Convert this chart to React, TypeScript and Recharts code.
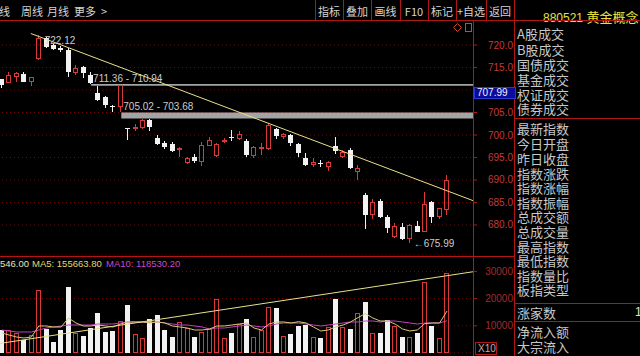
import React from 'react';
import {
  ComposedChart,
  Bar,
  Line,
  XAxis,
  YAxis,
  CartesianGrid,
  ReferenceLine,
  ReferenceArea,
  ReferenceDot,
} from 'recharts';

// daily candles, oldest first (index 0 is cut at the left edge)
const opens = [
  712.4, 711.6, 712.8, 713.6, 711.85, 717.0, 721.5, 720.0, 719.4, 719.0,
  713.85, 715.05, 713.3, 709.4, 708.4, 706.55, 706.15, 701.5, 701.3, 701.5,
  703.3, 699.3, 698.2, 697.9, 696.7, 693.7, 695.2, 694.1, 697.6, 695.4,
  698.5, 699.6, 699.1, 698.7, 695.3, 696.8, 696.8, 701.3, 699.5, 700.0,
  697.9, 694.95, 693.3, 693.85, 692.95, 697.55, 695.2, 696.65, 691.85, 686.65,
  682.2, 685.4, 681.7, 677.3, 679.6, 676.8, 679.8, 678.5, 685.2, 681.7, 683.3,
];
const highs = [
  712.5, 714.1, 714.0, 714.1, 712.9, 722.12, 721.85, 720.2, 719.7, 719.3,
  715.55, 715.3, 714.1, 710.94, 708.7, 706.65, 711.2, 701.6, 702.4, 703.56,
  703.45, 700.0, 698.65, 698.4, 697.3, 695.1, 695.8, 698.5, 699.6, 698.2,
  699.3, 701.1, 700.9, 699.05, 697.55, 698.15, 702.6, 701.55, 700.35, 700.2,
  698.2, 695.9, 694.8, 694.45, 694.2, 699.5, 696.7, 697.05, 693.3, 687.1,
  685.7, 685.7, 682.2, 680.4, 680.4, 680.2, 680.95, 687.4, 685.35, 683.8, 691.1,
];
const lows = [
  710.4, 711.5, 711.8, 711.8, 710.9, 716.7, 719.3, 718.9, 718.5, 713.0,
  713.3, 712.6, 711.36, 707.5, 705.9, 705.1, 705.02, 698.9, 700.9, 701.3,
  700.9, 697.8, 696.9, 696.15, 695.2, 693.55, 693.7, 693.2, 697.55, 695.1,
  698.15, 698.65, 699.0, 695.2, 694.8, 695.55, 696.7, 699.05, 699.05, 697.55,
  695.05, 693.2, 692.8, 692.8, 692.05, 695.8, 694.9, 692.45, 690.0, 679.05,
  681.3, 681.55, 678.15, 677.05, 676.65, 675.99, 678.35, 678.35, 680.5, 681.25, 682.2,
];
const closes = [
  711.1, 713.3, 713.7, 711.8, 712.8, 721.5, 719.6, 719.1, 719.0, 714.1,
  714.95, 713.85, 711.6, 707.8, 706.7, 706.3, 711.1, 701.3, 701.8, 703.3,
  701.85, 697.9, 697.4, 696.4, 697.2, 694.95, 694.2, 697.8, 698.9, 697.9,
  698.8, 699.25, 700.15, 695.55, 697.4, 697.4, 702.2, 699.8, 700.2, 698.3,
  695.9, 693.3, 694.05, 693.55, 694.05, 696.5, 696.3, 692.6, 692.6, 682.2,
  685.2, 681.85, 679.25, 679.8, 676.8, 680.0, 678.5, 684.65, 681.7, 683.7, 690.0,
];

// volume in axis units (the axis is marked X10)
const volumes = [
  8450, 8450, 7350, 4780, 6600, 23200, 8800, 4150, 8450, 24150,
  7460, 6250, 9080, 14800, 7830, 8090, 11870, 17650, 6870, 5400,
  12390, 13970, 8450, 6000, 11500, 9080, 5770, 7830, 8710, 19740,
  5400, 7240, 10660, 12390, 5770, 8450, 17020, 16430, 6250, 6870,
  9930, 10290, 5770, 5400, 9670, 19740, 9670, 8710, 14590, 18860,
  7240, 7240, 12130, 9930, 5770, 5770, 7240, 26210, 9930, 5400, 29520,
];
const ma5 = [
  7350, 6600, 5880, 5510, 5880, 9930, 9930, 9560, 9560, 12870,
  11030, 9930, 9930, 10290, 9930, 9560, 10660, 11400, 11400, 11400,
  11030, 11400, 11030, 9930, 9560, 9190, 8450, 8450, 8820, 9930,
  9930, 10290, 10660, 11030, 9190, 8450, 10660, 11400, 11400, 11030,
  11500, 11030, 9560, 8090, 8450, 9560, 10300, 11400, 13000, 14500,
  12870, 11760, 11760, 10660, 8820, 8090, 8450, 10800, 11030, 11030, 15440,
];
const ma10 = [
  8450, 8090, 7720, 7720, 7720, 8450, 9190, 9560, 9930, 10290,
  10290, 10290, 10290, 10660, 10660, 10660, 11030, 11400, 11400, 11400,
  11400, 11400, 11030, 10660, 10290, 10290, 9930, 9560, 8820, 9190,
  9190, 9560, 9930, 10290, 9930, 9560, 9930, 10660, 11030, 11030,
  11030, 10660, 10290, 9930, 10290, 10660, 11030, 11400, 11400, 11760,
  11760, 11400, 11760, 11760, 11400, 11030, 10660, 11030, 11030, 11030, 11850,
];

const SLOTS = 64; // 61 candles + empty room before the price axis

const priceTicks = [680, 685, 690, 695, 700, 705, 710, 715, 720];
const volTicks = [10000, 20000, 30000];

const gaps = [
  { after: 12, top: 711.36, bottom: 710.94 },
  { after: 16, top: 705.02, bottom: 703.68 },
];
const priceTrend = [{ x: 4.35, y: 722.56 }, { x: 63.5, y: 685.1 }];
const volTrend = [{ x: -0.5, y: 3200 }, { x: 63.5, y: 30070 }];
const highMark = { i: 5, value: 722.12 };
const lowMark = { i: 55, value: 675.99 };
const cursorPrice = 707.99; // the blue box covers the 710.0 tick label
const volHeader = { vol: '546.00', ma5: '155663.80', ma10: '118530.20' };

const tabs = [
  { text: '日线', left: -12 },
  { text: '周线', left: 21 },
  { text: '月线', left: 47 },
  { text: '更多', left: 74 },
  { text: '>', left: 101 },
];
const buttons = ['指标', '叠加', '画线', 'F10', '标记', '+自选', '返回'];
const buttonEdges = [315, 343, 371, 400, 428, 456, 486, 514];
const infoRows = [
  { text: 'A股成交', y: 33.5 },
  { text: 'B股成交', y: 49 },
  { text: '国债成交', y: 64 },
  { text: '基金成交', y: 79 },
  { text: '权证成交', y: 94 },
  { text: '债券成交', y: 108.5 },
  { text: '最新指数', y: 128 },
  { text: '今日开盘', y: 143 },
  { text: '昨日收盘', y: 158 },
  { text: '指数涨跌', y: 173 },
  { text: '指数涨幅', y: 187.5 },
  { text: '指数振幅', y: 202 },
  { text: '总成交额', y: 216.5 },
  { text: '总成交量', y: 231 },
  { text: '最高指数', y: 246 },
  { text: '最低指数', y: 260.5 },
  { text: '指数量比', y: 275 },
  { text: '板指类型', y: 289.5 },
  { text: '涨家数', y: 312.5 },
  { text: '净流入额', y: 331 },
  { text: '大宗流入', y: 346 },
];

const RED = '#d83a3a';
const WHITE = '#f2f2f2';
const FRAME = '#b01616';
const GRID = '#6e0a0a';
const TREND = '#e6e28a';
const LABEL = '#cccccc';
const NUM_FONT = "'Liberation Sans', Arial, 'DejaVu Sans', sans-serif";
const CJK_FONT = "'Noto Sans CJK SC', 'Noto Sans', sans-serif";

function Candle(props: any) {
  const { x, y, width, height, payload } = props;
  if (!payload || payload.o == null || !(height > 0)) return null;
  const { o, h, l, c } = payload;
  const k = height / (h - l);
  const toY = (v: number) => y + (h - v) * k;
  const left = Math.round(x + width / 2 - 2.5);
  const up = c >= o;
  const color = up ? RED : WHITE;
  const yHigh = Math.round(y);
  const yLow = Math.round(y + height);
  const yTop = Math.round(toY(Math.max(o, c)));
  const yBot = Math.max(Math.round(toY(Math.min(o, c))), yTop + 1);
  return (
    <g>
      <rect x={left + 2} y={yHigh} width={1} height={Math.max(0, yTop - yHigh)} fill={color} />
      <rect x={left + 2} y={yBot} width={1} height={Math.max(0, yLow - yBot)} fill={color} />
      {up && yBot - yTop > 2 ? (
        <rect x={left + 0.5} y={yTop + 0.5} width={4} height={yBot - yTop - 1} fill="none" stroke={color} />
      ) : (
        <rect x={left} y={yTop} width={5} height={yBot - yTop} fill={color} />
      )}
    </g>
  );
}

function VolBar(props: any) {
  const { x, y, width, height, payload } = props;
  if (!payload || payload.v == null || !(height > 0)) return null;
  const left = Math.round(x + width / 2 - 2.5);
  const top = Math.round(y);
  const bottom = Math.round(y + height);
  return payload.up ? (
    <rect x={left + 0.5} y={top + 0.5} width={4} height={Math.max(0, bottom - top - 1)} fill="none" stroke={RED} />
  ) : (
    <rect x={left} y={top} width={5} height={bottom - top} fill={WHITE} />
  );
}

const PriceTick = (props: any) => {
  const v = Number(props.payload.value);
  if (Math.abs(v - cursorPrice) < 2.5) return <g />;
  return (
    <text x={props.x + 36} y={props.y} dy={3.5} textAnchor="end" fill="#c23a3a" fontSize={10} fontFamily={NUM_FONT}>
      {v.toFixed(1)}
    </text>
  );
};

const VolTick = (props: any) => (
  <text x={props.x + 36} y={props.y} dy={3.5} textAnchor="end" fill="#a02c2c" fontSize={10} fontFamily={NUM_FONT}>
    {props.payload.value}
  </text>
);

const gapLabel = (text: string) => (p: any) => (
  <text x={p.viewBox.x + 2} y={p.viewBox.y - 2} fill={LABEL} fontSize={10} fontFamily={NUM_FONT}>
    {text}
  </text>
);

const highLabel = (p: any) => (
  <text x={p.viewBox.x + 10} y={p.viewBox.y + 10} fill={LABEL} fontSize={10} fontFamily={NUM_FONT}>
    {highMark.value.toFixed(2)}
  </text>
);

const lowLabel = (p: any) => (
  <text x={p.viewBox.x + 2} y={p.viewBox.y + 4.5} fill={LABEL} fontSize={10} fontFamily={NUM_FONT}>
    {'←' + lowMark.value.toFixed(2)}
  </text>
);

export default function App() {
  const rows = Array.from({ length: SLOTS }, (_, i) => ({
    i,
    o: opens[i],
    h: highs[i],
    l: lows[i],
    c: closes[i],
    up: closes[i] >= opens[i],
    v: volumes[i],
    m5: ma5[i],
    m10: ma10[i],
  }));

  const text = (extra: React.CSSProperties): React.CSSProperties => ({
    position: 'absolute',
    whiteSpace: 'nowrap',
    lineHeight: 1,
    ...extra,
  });

  return (
    <div
      style={{
        position: 'fixed',
        left: 0,
        top: 0,
        width: 640,
        height: 356,
        background: '#000',
        overflow: 'hidden',
      }}
    >
      {/* toolbar */}
      {tabs.map((t) => (
        <div key={t.text} style={text({ left: t.left, top: 5.5, fontSize: 11, color: '#d4d4d4', fontFamily: CJK_FONT })}>
          {t.text}
        </div>
      ))}
      {buttons.map((b, k) => (
        <div
          key={b}
          style={text({
            left: buttonEdges[k],
            width: buttonEdges[k + 1] - buttonEdges[k],
            textAlign: 'center',
            top: 5.5,
            fontSize: 11,
            color: '#d4d4d4',
            fontFamily: CJK_FONT,
          })}
        >
          {b}
        </div>
      ))}
      <div style={text({ left: 543, top: 6.5, color: '#e8e040', fontFamily: CJK_FONT })}>
        <span style={{ fontSize: 12, fontFamily: NUM_FONT }}>880521 </span>
        <span style={{ fontSize: 13 }}>黄金概念</span>
      </div>

      {/* price panel */}
      <div style={{ position: 'absolute', left: -2, top: 20 }}>
        <ComposedChart width={517} height={235} data={rows} margin={{ top: 0, right: 0, bottom: 0, left: 0 }}>
          <CartesianGrid vertical={false} stroke={GRID} strokeDasharray="1 3" />
          <XAxis dataKey="i" hide />
          <XAxis xAxisId="n" type="number" domain={[-0.5, SLOTS - 0.5]} allowDataOverflow hide />
          <YAxis
            orientation="right"
            width={42}
            domain={[673.333, 725.556]}
            allowDataOverflow
            ticks={priceTicks}
            interval={0}
            axisLine={false}
            tickLine={{ stroke: FRAME }}
            tickSize={4}
            tickMargin={0}
            tick={PriceTick}
          />
          {gaps.map((g) => (
            <ReferenceArea
              key={g.after}
              xAxisId="n"
              x1={g.after + 0.35}
              x2={SLOTS - 0.5}
              y1={g.bottom}
              y2={g.top}
              fill="#a4a4a4"
              fillOpacity={1}
              stroke="none"
              ifOverflow="hidden"
              label={gapLabel(`${g.top.toFixed(2)} - ${g.bottom.toFixed(2)}`)}
            />
          ))}
          <Bar
            dataKey={(d: any) => (d.o == null ? null : [d.l, d.h])}
            barSize={5}
            shape={<Candle />}
            isAnimationActive={false}
          />
          <ReferenceLine xAxisId="n" segment={priceTrend} stroke={TREND} ifOverflow="hidden" />
          <ReferenceDot xAxisId="n" x={highMark.i} y={highMark.value} r={1} fill="none" stroke="none" label={highLabel} />
          <ReferenceDot xAxisId="n" x={lowMark.i} y={lowMark.value} r={1} fill="none" stroke="none" label={lowLabel} />
        </ComposedChart>
      </div>

      {/* volume panel */}
      <div style={{ position: 'absolute', left: -2, top: 256 }}>
        <ComposedChart width={517} height={100} data={rows} margin={{ top: 0, right: 0, bottom: 3, left: 0 }}>
          <CartesianGrid vertical={false} stroke={GRID} strokeDasharray="1 3" />
          <XAxis dataKey="i" hide />
          <XAxis xAxisId="n" type="number" domain={[-0.5, SLOTS - 0.5]} allowDataOverflow hide />
          <YAxis
            orientation="right"
            width={42}
            domain={[0, 35657]}
            allowDataOverflow
            ticks={volTicks}
            interval={0}
            axisLine={false}
            tickLine={{ stroke: FRAME }}
            tickSize={4}
            tickMargin={0}
            tick={VolTick}
          />
          <Bar dataKey="v" barSize={5} shape={<VolBar />} isAnimationActive={false} />
          <Line dataKey="m10" stroke="#c040c0" dot={false} strokeWidth={1} isAnimationActive={false} />
          <Line dataKey="m5" stroke="#d8c878" dot={false} strokeWidth={1} isAnimationActive={false} />
          <ReferenceLine xAxisId="n" segment={volTrend} stroke={TREND} ifOverflow="hidden" />
        </ComposedChart>
      </div>
      <div style={text({ left: 0, top: 258.5, fontSize: 9.5, fontFamily: NUM_FONT, color: '#e4e4c0' })}>
        {volHeader.vol}
      </div>
      <div style={text({ left: 32, top: 258.5, fontSize: 9.5, fontFamily: NUM_FONT, color: '#e0d870' })}>
        MA5: {volHeader.ma5}
      </div>
      <div style={text({ left: 106, top: 258.5, fontSize: 9.5, fontFamily: NUM_FONT, color: '#c848c8' })}>
        MA10: {volHeader.ma10}
      </div>

      {/* frame lines */}
      <svg width={640} height={356} style={{ position: 'absolute', left: 0, top: 0, pointerEvents: 'none' }}>
        <g stroke={FRAME} strokeWidth={1} fill="none">
          <path d="M0 20.5H640" />
          <path d="M0 256.5H514" />
          <path d="M473.5 20V356" />
          <path d="M514.5 0V356" />
          <path d="M514 118.5H640M514 303.5H640M514 321.5H640" />
          {buttonEdges.slice(0, -1).map((e) => (
            <path key={e} d={`M${e + 0.5} 0V20`} />
          ))}
          <rect x={475.5} y={342.5} width={21} height={12} />
        </g>
        <g stroke="#c84a2a" fill="none">
          <path d="M457.5 23.5L461.5 27.5L457.5 31.5L453.5 27.5Z" />
          <rect x={465.5} y={23.5} width={6} height={8} />
        </g>
        <text x={478} y={352} fill="#c8a8a8" fontSize={10} fontFamily={NUM_FONT}>
          X10
        </text>
      </svg>

      {/* cursor price box */}
      <div
        style={text({
          left: 474,
          top: 87,
          width: 38,
          height: 10,
          paddingLeft: 2,
          background: '#0c0c9c',
          border: '1px solid #2a3ad0',
          color: '#f0f0ff',
          fontSize: 10,
          lineHeight: '10px',
          fontFamily: NUM_FONT,
        })}
      >
        {cursorPrice.toFixed(2)}
      </div>

      {/* right info panel */}
      {infoRows.map((r) => (
        <div key={r.text} style={text({ left: 517, top: r.y - 6.5, fontSize: 13, color: '#c8c8c8', fontFamily: CJK_FONT })}>
          {r.text}
        </div>
      ))}
      <div style={text({ left: 635, top: 306, fontSize: 12, color: '#e8e8c0', fontFamily: NUM_FONT })}>1</div>
    </div>
  );
}
